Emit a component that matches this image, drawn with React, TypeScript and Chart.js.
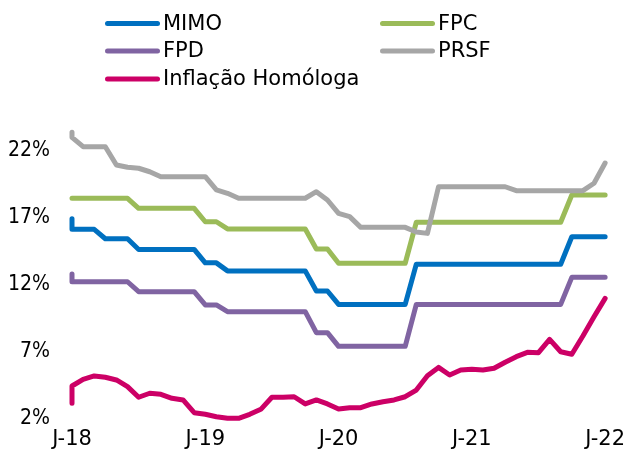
import React, { useEffect, useRef } from 'react';
import { Chart, registerables } from 'chart.js';

Chart.register(...registerables);

// Month offsets from Jan-2018 (first month holds two observations)
const monthIndex = [0, 0, 1, 2, 3, 4, 5, 6, 7, 8, 9, 10, 11, 12, 13, 14, 15, 16, 17, 18, 19, 20, 21, 22, 23, 24, 25, 26, 27, 28, 29, 30, 31, 32, 33, 34, 35, 36, 37, 38, 39, 40, 41, 42, 43, 44, 45, 46, 47, 48];
const xTickValues = [0, 12, 24, 36, 48];
const xTickLabels = ['J-18', 'J-19', 'J-20', 'J-21', 'J-22'];
const yTickValues = [2, 7, 12, 17, 22];

const seriesNames = ['MIMO', 'FPC', 'FPD', 'PRSF', 'Inflação Homóloga'];
const seriesColors = ['#0070C0', '#9BBB59', '#8064A2', '#A6A6A6', '#CC0066'];

const mimo = [16.9, 16.1, 16.1, 16.1, 15.4, 15.4, 15.4, 14.6, 14.6, 14.6, 14.6, 14.6, 14.6, 13.6, 13.6, 13.0, 13.0, 13.0, 13.0, 13.0, 13.0, 13.0, 13.0, 11.5, 11.5, 10.5, 10.5, 10.5, 10.5, 10.5, 10.5, 10.5, 13.5, 13.5, 13.5, 13.5, 13.5, 13.5, 13.5, 13.5, 13.5, 13.5, 13.5, 13.5, 13.5, 13.5, 15.55, 15.55, 15.55, 15.55];
const fpc = [18.42, 18.42, 18.42, 18.42, 18.42, 18.42, 18.42, 17.67, 17.67, 17.67, 17.67, 17.67, 17.67, 16.67, 16.67, 16.13, 16.13, 16.13, 16.13, 16.13, 16.13, 16.13, 16.13, 14.63, 14.63, 13.57, 13.57, 13.57, 13.57, 13.57, 13.57, 13.57, 16.63, 16.63, 16.63, 16.63, 16.63, 16.63, 16.63, 16.63, 16.63, 16.63, 16.63, 16.63, 16.63, 16.63, 18.66, 18.66, 18.66, 18.66];
const fpd = [12.77, 12.19, 12.19, 12.19, 12.19, 12.19, 12.19, 11.45, 11.45, 11.45, 11.45, 11.45, 11.45, 10.46, 10.46, 9.96, 9.96, 9.96, 9.96, 9.96, 9.96, 9.96, 9.96, 8.39, 8.39, 7.37, 7.37, 7.37, 7.37, 7.37, 7.37, 7.37, 10.5, 10.5, 10.5, 10.5, 10.5, 10.5, 10.5, 10.5, 10.5, 10.5, 10.5, 10.5, 10.5, 10.5, 12.52, 12.52, 12.52, 12.52];
const prsf = [23.34, 22.97, 22.27, 22.27, 22.27, 20.9, 20.73, 20.66, 20.4, 20.03, 20.03, 20.03, 20.03, 20.03, 19.04, 18.79, 18.42, 18.42, 18.42, 18.42, 18.42, 18.42, 18.42, 18.91, 18.29, 17.3, 17.05, 16.25, 16.25, 16.25, 16.25, 16.25, 15.9, 15.8, 19.28, 19.28, 19.28, 19.28, 19.28, 19.28, 19.28, 18.99, 18.99, 18.99, 18.99, 18.99, 18.99, 18.99, 19.54, 21.05];
const inflacao = [3.12, 4.41, 4.91, 5.16, 5.06, 4.86, 4.36, 3.57, 3.87, 3.79, 3.49, 3.37, 2.42, 2.3, 2.12, 2.0, 2.0, 2.3, 2.67, 3.57, 3.57, 3.61, 3.07, 3.37, 3.07, 2.69, 2.79, 2.79, 3.07, 3.24, 3.37, 3.61, 4.11, 5.18, 5.8, 5.23, 5.6, 5.66, 5.6, 5.73, 6.18, 6.6, 6.92, 6.9, 7.89, 6.97, 6.78, 8.14, 9.58, 10.95];

const seriesValues = [mimo, fpc, fpd, prsf, inflacao];
// drawing order (lower = on top)
const seriesOrder = [4, 3, 2, 1, 0];

const FONT = "'DejaVu Sans', sans-serif";
const FONT_COND = "'DejaVu Sans Condensed', 'DejaVu Sans', sans-serif";

const legendPlugin = {
  id: 'gridLegend',
  afterDraw(chart: any) {
    const ctx = chart.ctx as CanvasRenderingContext2D;
    const slots = [
      { col: 0, row: 0 },
      { col: 1, row: 0 },
      { col: 0, row: 1 },
      { col: 1, row: 1 },
      { col: 0, row: 2 },
    ];
    const colX = [107.5, 382.5];
    const textX = [163, 438];
    const rowY = [23.5, 51, 79];
    ctx.save();
    chart.data.datasets.forEach((ds: any, i: number) => {
      const s = slots[i];
      const y = rowY[s.row];
      ctx.strokeStyle = ds.borderColor;
      ctx.lineWidth = 5;
      ctx.lineCap = 'round';
      ctx.beginPath();
      ctx.moveTo(colX[s.col], y);
      ctx.lineTo(colX[s.col] + 50, y);
      ctx.stroke();
      ctx.fillStyle = '#000';
      ctx.font = `21px ${FONT}`;
      ctx.textAlign = 'left';
      ctx.textBaseline = 'middle';
      ctx.fillText(ds.label, textX[s.col], y + 1);
    });
    ctx.restore();
  },
};

export default function App() {
  const canvasRef = useRef<HTMLCanvasElement | null>(null);

  useEffect(() => {
    document.body.style.margin = '0';
    const canvas = canvasRef.current;
    if (!canvas) return;
    const chart = new Chart(canvas, {
      type: 'line',
      data: {
        datasets: seriesNames.map((name, s) => ({
          label: name,
          data: monthIndex.map((m, i) => ({ x: m, y: seriesValues[s][i] })),
          borderColor: seriesColors[s],
          backgroundColor: seriesColors[s],
          borderWidth: 5,
          pointRadius: 0,
          tension: 0,
          borderCapStyle: 'round',
          borderJoinStyle: 'round',
          order: seriesOrder[s],
          clip: false,
        })),
      },
      options: {
        responsive: false,
        animation: false,
        devicePixelRatio: 1,
        layout: { padding: { top: 123.5, right: 22, bottom: 0, left: 0 } },
        plugins: {
          legend: { display: false },
          tooltip: { enabled: false },
        },
        scales: {
          x: {
            type: 'linear',
            min: 0,
            max: 48,
            grid: { display: false, drawTicks: false },
            border: { display: false },
            afterFit: (scale: any) => {
              scale.height = 38.7;
            },
            afterBuildTicks: (scale: any) => {
              scale.ticks = xTickValues.map((v) => ({ value: v }));
            },
            ticks: {
              padding: 9,
              maxRotation: 0,
              autoSkip: false,
              color: '#000',
              font: { family: FONT, size: 21 },
              callback: (value: any) => {
                const idx = xTickValues.indexOf(Number(value));
                return idx >= 0 ? xTickLabels[idx] : '';
              },
            },
          },
          y: {
            min: 2,
            max: 24,
            grid: { display: false, drawTicks: false },
            border: { display: false },
            afterFit: (scale: any) => {
              scale.width = 72;
            },
            afterBuildTicks: (scale: any) => {
              scale.ticks = yTickValues.map((v) => ({ value: v }));
            },
            ticks: {
              padding: 22,
              color: '#000',
              font: { family: FONT_COND, size: 21 },
              callback: (value: any) => `${value}%`,
            },
          },
        },
      },
      plugins: [legendPlugin],
    });
    return () => chart.destroy();
  }, []);

  return (
    <div style={{ width: 634, height: 457, position: 'relative', background: '#fff' }}>
      <canvas ref={canvasRef} width={634} height={457} />
    </div>
  );
}
